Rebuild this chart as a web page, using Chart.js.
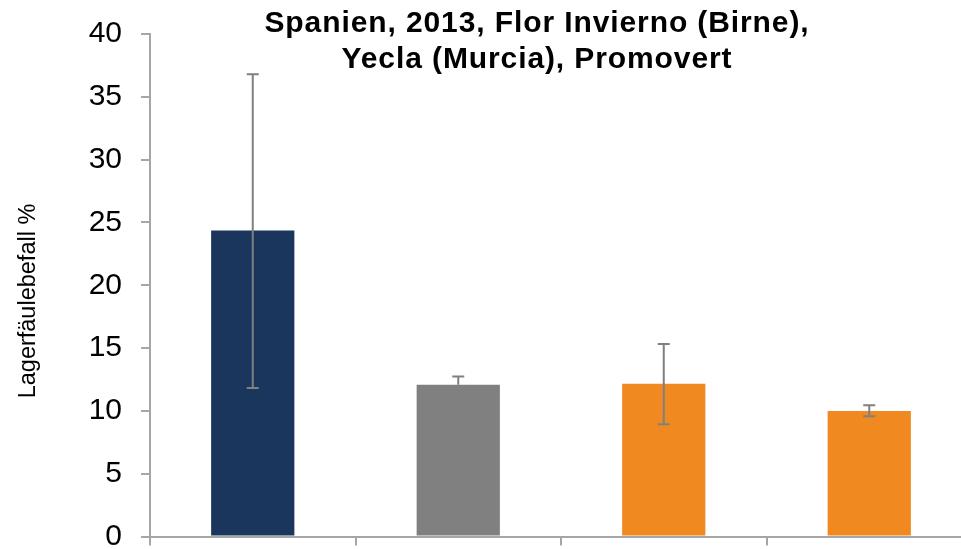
<!DOCTYPE html>
<html lang="de">
  <head>
    <meta charset="UTF-8" />
    <title>Lagerfäulebefall</title>
    <script src="https://cdn.jsdelivr.net/npm/chart.js"></script>
    <style>
      body {
        margin: 0;
        padding: 0;
        background: #fff;
        overflow: hidden;
      }
      .chart-box {
        position: relative;
        width: 972px;
        height: 549px;
      }
    </style>
  </head>
  <body>
    <div class="chart-box">
      <canvas id="chart"></canvas>
    </div>

    <script>
      // data
      const treatments = ["1", "2", "3", "4"];
      const values = [24.35, 12.07, 12.15, 10.0];
      const errLow = [11.83, 12.07, 8.94, 9.57];
      const errHigh = [36.8, 12.73, 15.33, 10.45];
      const barColors = ["#1b365d", "#808080", "#f0891f", "#f0891f"];
      const titleLines = ["Spanien, 2013, Flor Invierno (Birne),", "Yecla (Murcia), Promovert"];
      const yLabel = "Lagerfäulebefall %";
      const yTicks = [0, 5, 10, 15, 20, 25, 30, 35, 40];

      const FONT = "'Liberation Sans', Arial, sans-serif";
      const axisGrey = "#a6a6a6";

      // error bars on top of the bars
      const errorBars = {
        id: "errorBars",
        afterDatasetsDraw(chart) {
          const ctx = chart.ctx;
          const y = chart.scales.y;
          const meta = chart.getDatasetMeta(0);
          ctx.save();
          ctx.strokeStyle = "#808080";
          ctx.lineWidth = 2;
          meta.data.forEach((bar, i) => {
            const x = bar.x;
            const top = y.getPixelForValue(errHigh[i]);
            const bot = y.getPixelForValue(errLow[i]);
            ctx.beginPath();
            ctx.moveTo(x, top);
            ctx.lineTo(x, bot);
            ctx.moveTo(x - 6, top);
            ctx.lineTo(x + 6, top);
            if (errLow[i] < values[i]) {
              ctx.moveTo(x - 6, bot);
              ctx.lineTo(x + 6, bot);
            }
            ctx.stroke();
          });
          ctx.restore();
        },
      };

      // title over the top of the plot and the y label a bit below centre, like the original
      const texts = {
        id: "texts",
        afterDraw(chart) {
          const ctx = chart.ctx;
          ctx.save();
          ctx.font = "bold 30px " + FONT;
          ctx.letterSpacing = "0.9px";
          ctx.fillStyle = "#000";
          ctx.textAlign = "center";
          ctx.textBaseline = "alphabetic";
          ctx.fillText(titleLines[0], 537, 32);
          ctx.fillText(titleLines[1], 537, 68);
          ctx.restore();

          ctx.save();
          ctx.font = "23.5px " + FONT;
          ctx.fillStyle = "#000";
          ctx.textAlign = "center";
          ctx.textBaseline = "middle";
          ctx.translate(29, 301);
          ctx.rotate(-Math.PI / 2);
          ctx.fillText(yLabel, 0, 0);
          ctx.restore();
        },
      };

      new Chart(document.getElementById("chart"), {
        type: "bar",
        data: {
          labels: treatments,
          datasets: [
            {
              data: values,
              backgroundColor: barColors,
              categoryPercentage: 1,
              barPercentage: 0.405,
            },
          ],
        },
        options: {
          responsive: true,
          maintainAspectRatio: false,
          animation: false,
          layout: { padding: { top: 34, left: 0, right: 0, bottom: 0 } },
          plugins: {
            legend: { display: false },
            tooltip: { enabled: false },
          },
          scales: {
            x: {
              offset: true,
              ticks: { display: false },
              grid: {
                offset: true,
                drawOnChartArea: false,
                tickLength: 9,
                color: axisGrey,
                lineWidth: 2,
              },
              border: { color: axisGrey, width: 2 },
              afterFit(scale) {
                scale.height = 12.5;
                scale.paddingLeft = 0;
                scale.paddingRight = 0;
              },
            },
            y: {
              min: 0,
              max: 40,
              afterBuildTicks(scale) {
                scale.ticks = yTicks.map((v) => ({ value: v }));
              },
              ticks: {
                color: "#000",
                padding: 19,
                font: { family: FONT, size: 30 },
              },
              grid: {
                drawOnChartArea: false,
                tickLength: 9,
                color: axisGrey,
                lineWidth: 2,
              },
              border: { color: axisGrey, width: 2 },
              afterFit(scale) {
                scale.width = 150;
                scale.paddingTop = 0;
                scale.paddingBottom = 0;
              },
            },
          },
        },
        plugins: [errorBars, texts],
      });
    </script>
  </body>
</html>
